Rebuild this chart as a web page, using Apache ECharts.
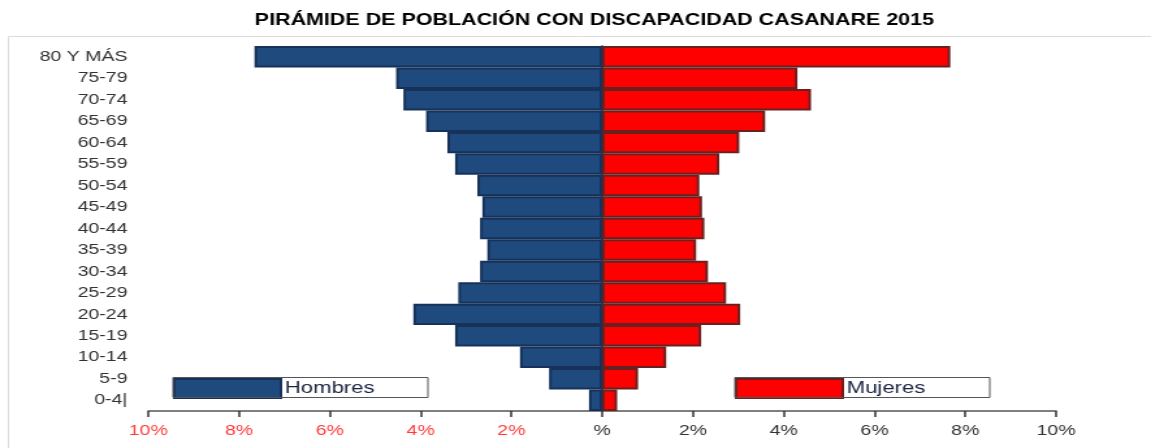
<!DOCTYPE html>
<html>
<head>
<meta charset="utf-8">
<script src="https://cdn.jsdelivr.net/npm/echarts@6/dist/echarts.min.js"></script>
<style>
  html, body { margin: 0; padding: 0; background: #fff; overflow: hidden; }
  /* la imagen original está estirada en horizontal */
  #myChart { width: 885px; height: 448px; transform: scaleX(1.3006); transform-origin: 0 0; }
</style>
</head>
<body>
<div id="myChart"></div>
<script>
var grupos = ['0-4|', '5-9', '10-14', '15-19', '20-24', '25-29', '30-34', '35-39', '40-44',
    '45-49', '50-54', '55-59', '60-64', '65-69', '70-74', '75-79', '80 Y MÁS'];
// porcentajes (de 0-4 a 80 y más)
var hombres = [0.29, 1.17, 1.81, 3.24, 4.16, 3.17, 2.69, 2.53, 2.69, 2.64, 2.75, 3.24, 3.41, 3.88, 4.38, 4.54, 7.66];
var mujeres = [0.33, 0.79, 1.41, 2.18, 3.04, 2.73, 2.33, 2.07, 2.25, 2.20, 2.14, 2.58, 3.02, 3.59, 4.60, 4.30, 7.67];
var ticksX = [-10, 10, 2];

var myChart = echarts.init(document.getElementById('myChart'));
var option = {
    backgroundColor: '#fff',
    title: {
        text: 'PIRÁMIDE DE POBLACIÓN CON DISCAPACIDAD CASANARE 2015',
        left: 452,
        top: 7,
        textAlign: 'center',
        textStyle: {
            fontFamily: 'Liberation Sans',
            fontWeight: 'bold',
            fontSize: 16.5,
            color: '#000'
        }
    },
    graphic: [
        {
            type: 'rect',
            shape: { x: 6.5, y: 36.5, width: 1000, height: 430 },
            style: { fill: null, stroke: '#dcdcdc', lineWidth: 1 },
            silent: true
        },
        // cajas de la leyenda
        {
            type: 'rect',
            shape: { x: 133, y: 377.5, width: 196, height: 20 },
            style: { fill: null, stroke: '#555', lineWidth: 1 },
            silent: true, z: 10
        },
        {
            type: 'rect',
            shape: { x: 565, y: 377.5, width: 196, height: 20 },
            style: { fill: null, stroke: '#555', lineWidth: 1 },
            silent: true, z: 10
        }
    ],
    legend: [
        {
            data: ['Hombres'],
            left: 133,
            top: 378,
            padding: 0,
            itemGap: 0,
            itemWidth: 82,
            itemHeight: 19,
            icon: 'rect',
            textStyle: { fontFamily: 'Liberation Sans', fontSize: 17, color: '#1c2440', padding: [0, 0, 0, -2] }
        },
        {
            data: ['Mujeres'],
            left: 565,
            top: 378,
            padding: 0,
            itemGap: 0,
            itemWidth: 82,
            itemHeight: 19,
            icon: 'rect',
            textStyle: { fontFamily: 'Liberation Sans', fontSize: 17, color: '#1c2440', padding: [0, 0, 0, -2] }
        }
    ],
    grid: {
        left: 114,
        right: 73,
        top: 46,
        bottom: 37
    },
    xAxis: {
        type: 'value',
        min: ticksX[0],
        max: ticksX[1],
        interval: ticksX[2],
        splitLine: { show: false },
        axisLine: { show: true, lineStyle: { color: '#555', width: 1.5 } },
        axisTick: { show: true, length: 6, lineStyle: { color: '#333', width: 1.5 } },
        axisLabel: {
            fontFamily: 'Liberation Sans',
            fontSize: 15,
            margin: 12,
            color: function (v) { return v < 0 ? '#ff3b3b' : '#333'; },
            formatter: function (v) { return v === 0 ? '%' : Math.abs(v) + '%'; }
        }
    },
    yAxis: [
        {
            type: 'category',
            data: grupos,
            axisLine: { show: false, onZero: false },
            axisTick: { show: false },
            axisLabel: {
                fontFamily: 'Liberation Sans',
                fontSize: 15,
                color: '#333',
                margin: 16
            }
        },
        {
            type: 'category',
            data: grupos,
            position: 'left',
            axisLine: { show: true, onZero: true, lineStyle: { color: '#111', width: 1.5 } },
            axisTick: { show: true, inside: true, length: 4, alignWithLabel: true, lineStyle: { color: '#111' } },
            axisLabel: { show: false }
        }
    ],
    series: [
        {
            name: 'Hombres',
            type: 'bar',
            yAxisIndex: 0,
            barCategoryGap: 0,
            barGap: '-100%',
            itemStyle: { color: '#1f4a7e', borderColor: '#16325a', borderWidth: 2 },
            data: hombres.map(function (v) { return -v; })
        },
        {
            name: 'Mujeres',
            type: 'bar',
            yAxisIndex: 0,
            barCategoryGap: 0,
            barGap: '-100%',
            itemStyle: { color: '#ff0000', borderColor: '#6b2020', borderWidth: 2 },
            data: mujeres
        }
    ]
};
myChart.setOption(option);
</script>
</body>
</html>
